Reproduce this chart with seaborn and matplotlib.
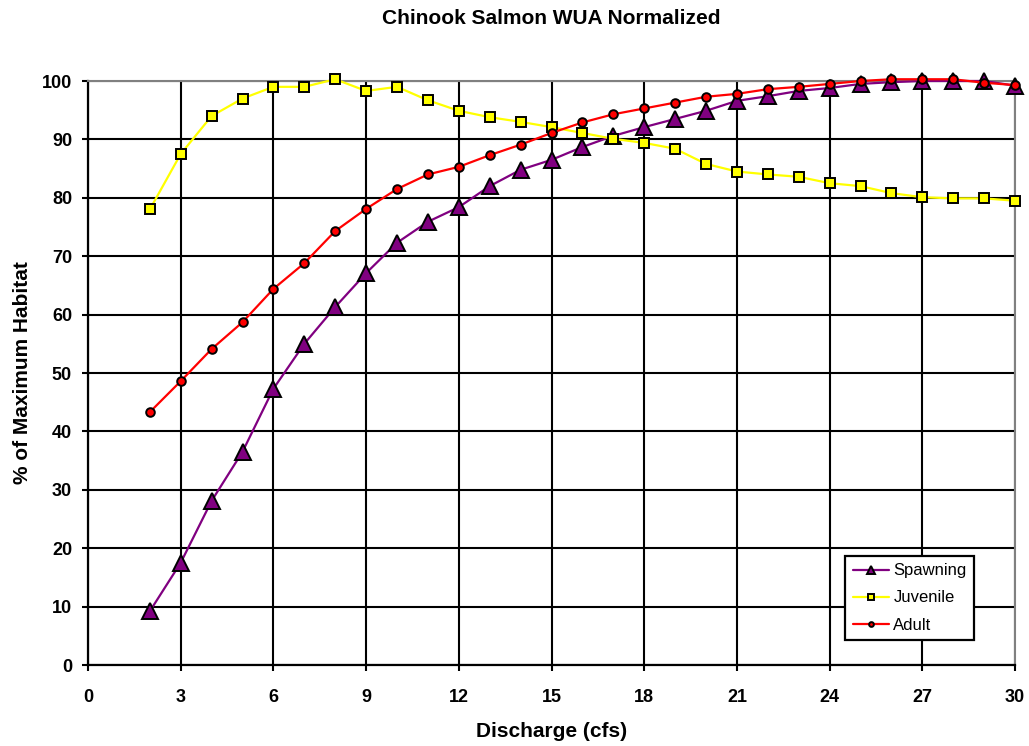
import matplotlib
matplotlib.use("Agg")
import matplotlib.pyplot as plt
import seaborn as sns
import pandas as pd

discharge = list(range(2, 31))
spawning = [9.2, 17.5, 28.1, 36.5, 47.3, 55.0, 61.3, 67.1, 72.3, 75.9, 78.4, 82.0, 84.8, 86.5,
            88.7, 90.6, 92.1, 93.5, 94.9, 96.6, 97.4, 98.3, 98.8, 99.5, 99.8, 100.0, 100.0, 100.0, 99.2]
juvenile = [78.0, 87.5, 94.0, 97.0, 99.0, 99.0, 100.3, 98.3, 99.0, 96.7, 94.9, 93.8, 93.0, 92.1,
            91.1, 90.1, 89.4, 88.4, 85.8, 84.5, 84.0, 83.6, 82.5, 82.0, 80.8, 80.1, 79.9, 79.9, 79.5]
adult = [43.3, 48.6, 54.1, 58.7, 64.4, 68.8, 74.3, 78.1, 81.5, 84.0, 85.3, 87.3, 89.1, 91.1,
         92.9, 94.3, 95.3, 96.3, 97.3, 97.8, 98.6, 99.0, 99.5, 100.0, 100.3, 100.3, 100.3, 99.7, 99.3]

series_names = ["Spawning", "Juvenile", "Adult"]
line_colors = ["#800080", "#FFFF00", "#FF0000"]
markers = ["^", "s", "o"]
marker_sizes = [11, 7, 6.2]

sns.set_theme(style="white")
plt.rcParams['font.family'] = ['Liberation Sans', 'DejaVu Sans']
plt.rcParams.update({"text.color": "black", "axes.labelcolor": "black",
                     "xtick.color": "black", "ytick.color": "black"})

df = pd.DataFrame({"Discharge": discharge, "Spawning": spawning,
                   "Juvenile": juvenile, "Adult": adult})

fig = plt.figure(figsize=(10.29, 7.46), dpi=100)
ax = fig.add_axes([88/1029, 81/746, (1015-88)/1029, (665-81)/746])

for name, c, m, ms in zip(series_names, line_colors, markers, marker_sizes):
    sns.lineplot(data=df, x="Discharge", y=name, ax=ax, color=c, marker=m,
                 markersize=ms, markeredgecolor="black", markeredgewidth=1.4,
                 markerfacecolor=c, linewidth=1.6, label=name, zorder=3, clip_on=False)

ax.set_xlim(0, 30)
ax.set_ylim(0, 100)
ax.set_xticks(range(0, 31, 3))
ax.set_yticks(range(0, 101, 10))
ax.grid(True, color="black", linewidth=1.5)
ax.set_axisbelow(True)

for s in ["left", "bottom"]:
    ax.spines[s].set_color("black")
    ax.spines[s].set_linewidth(1.6)
for s in ["top", "right"]:
    ax.spines[s].set_color("#808080")
    ax.spines[s].set_linewidth(1.5)

ax.tick_params(axis="both", which="major", direction="out", length=4.5, width=1.5,
               color="black", labelcolor="black", labelsize=13, left=True, bottom=True)
ax.tick_params(axis="y", pad=7)
ax.tick_params(axis="x", pad=13)
for lab in ax.get_xticklabels() + ax.get_yticklabels():
    lab.set_fontweight("bold")

ax.set_xlabel("Discharge (cfs)", fontsize=15, fontweight="bold", labelpad=11, color="black")
ax.set_ylabel("% of Maximum Habitat", fontsize=15, fontweight="bold", labelpad=7, color="black")
fig.text(551/1029, 1 - 18/746, "Chinook Salmon WUA Normalized", fontsize=15,
         fontweight="bold", ha="center", va="center", color="black")

leg = ax.legend(loc="lower left", bbox_to_anchor=(845/1029, (746-640)/746),
                bbox_transform=fig.transFigure, frameon=True, fancybox=False,
                edgecolor="black", fontsize=12, handlelength=2.2, borderpad=0.45,
                labelspacing=0.72, markerscale=0.55, handletextpad=0.25,
                borderaxespad=0, labelcolor="black")
leg.get_frame().set_linewidth(1.6)
leg.get_frame().set_facecolor("white")
leg.get_frame().set_alpha(1)

fig.savefig("out.png", dpi=100)
